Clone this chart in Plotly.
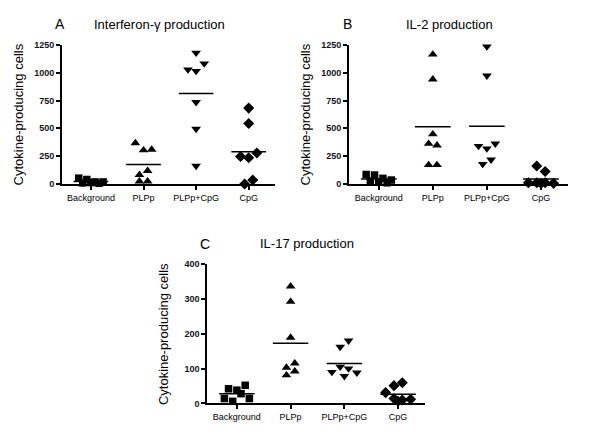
import plotly.graph_objects as go

categories = ["Background", "PLPp", "PLPp+CpG", "CpG"]

# Panel A - Interferon-gamma (one value per animal)
ifn_background = [52, 40, 18, 9, 12, 18, 6]
ifn_plpp = [368, 303, 309, 82, 118, 24, 24]
ifn_plpp_cpg = [1179, 1029, 1015, 1082, 735, 494, 162]
ifn_cpg = [682, 544, 247, 235, 279, 0, 35]

# Panel B - IL-2
il2_background = [85, 80, 50, 35, 25, 20, 10]
il2_plpp = [1165, 941, 447, 362, 347, 171, 171]
il2_plpp_cpg = [1235, 974, 341, 318, 362, 179, 218]
il2_cpg = [162, 112, 10, 10, 10, 5, 5]

# Panel C - IL-17
il17_background = [42, 38, 52, 14, 6, 28, 14]
il17_plpp = [336, 292, 189, 103, 115, 81, 92]
il17_plpp_cpg = [162, 180, 90, 105, 100, 88, 78]
il17_cpg = [51, 59, 31, 14, 6, 10, 12]

symbols = ["square", "triangle-up", "triangle-down", "diamond"]
sizes = [7.5, 8.5, 8.5, 8.5]

# the page body adds an 8px margin, so the figure is laid out 8px smaller
OFF = 8
W, H = 600 - OFF, 438 - OFF


def fx(px):
    return (px - OFF) / W


def fy(py):
    return 1 - (py - OFF) / H


panels = [
    dict(name="A", title="Interferon-\u03b3 production",
         groups=[ifn_background, ifn_plpp, ifn_plpp_cpg, ifn_cpg],
         yrange=[0, 1250], dtick=250, box=(62, 275, 40.7, 183)),
    dict(name="B", title="IL-2 production",
         groups=[il2_background, il2_plpp, il2_plpp_cpg, il2_cpg],
         yrange=[0, 1250], dtick=250, box=(349, 568, 40.7, 183)),
    dict(name="C", title="IL-17 production",
         groups=[il17_background, il17_plpp, il17_plpp_cpg, il17_cpg],
         yrange=[0, 400], dtick=100, box=(207.3, 425, 265, 407.7)),
]

FONT = "Liberation Sans Narrow, Arial Narrow, Liberation Sans, Arial, sans-serif"


def beeswarm(values, px_per_unit, size, step=0.155, cap=4):
    # group points of similar height into rows, centre each row on the category
    order = sorted(range(len(values)), key=lambda i: -values[i])
    rows, cur = [], []
    for i in order:
        if cur and ((values[cur[0]] - values[i]) * px_per_unit >= 8 or len(cur) >= cap):
            rows.append(cur)
            cur = []
        cur.append(i)
    if cur:
        rows.append(cur)
    offs = [0.0] * len(values)
    for r in rows:
        r = sorted(r)
        n = len(r)
        for j, i in enumerate(r):
            offs[i] = (j - (n - 1) / 2) * step
    return offs


fig = go.Figure()
annotations = []

for n, p in enumerate(panels):
    sfx = "" if n == 0 else str(n + 1)
    xa, ya = "x" + sfx, "y" + sfx
    x0, x1, y0, y1 = p["box"]
    px_per_unit = (y1 - y0) / (p["yrange"][1] - p["yrange"][0])
    for g, vals in enumerate(p["groups"]):
        offs = beeswarm(vals, px_per_unit, sizes[g])
        fig.add_trace(go.Scatter(
            x=[g + o for o in offs], y=vals, mode="markers",
            marker=dict(symbol=symbols[g], size=sizes[g], color="black", line=dict(width=0)),
            xaxis=xa, yaxis=ya, showlegend=False, cliponaxis=False))
        m = sum(vals) / len(vals)
        fig.add_trace(go.Scatter(
            x=[g - 0.33, g + 0.33], y=[m, m], mode="lines",
            line=dict(color="black", width=1.5),
            xaxis=xa, yaxis=ya, showlegend=False, cliponaxis=False))

    fig.layout["xaxis" + sfx] = dict(
        domain=[fx(x0), fx(x1)], anchor=ya, range=[-0.55, 3.5],
        tickvals=[0, 1, 2, 3], ticktext=categories,
        showline=True, linecolor="black", linewidth=2,
        ticks="outside", ticklen=4, tickwidth=1.5, tickcolor="black",
        showgrid=False, zeroline=False,
        tickfont=dict(family="Liberation Sans, Arial, sans-serif", size=9, color="black"))
    fig.layout["yaxis" + sfx] = dict(
        domain=[fy(y1), fy(y0)], anchor=xa, range=p["yrange"], dtick=p["dtick"],
        showline=True, linecolor="black", linewidth=2,
        ticks="outside", ticklen=4, tickwidth=1.5, tickcolor="black",
        showgrid=False, zeroline=False,
        tickfont=dict(family="Liberation Sans, Arial, sans-serif", size=9, color="#111122", weight="bold"))

    # panel letter, title and y-axis label
    annotations.append(dict(text=p["name"], x=fx(x0 - 2), y=fy(y0 - 21),
                            xref="paper", yref="paper", xanchor="center", yanchor="middle",
                            showarrow=False, font=dict(family=FONT, size=14, color="black")))
    annotations.append(dict(text=p["title"], x=fx(x0 + 0.46 * (x1 - x0)), y=fy(y0 - 21),
                            xref="paper", yref="paper", xanchor="center", yanchor="middle",
                            showarrow=False, font=dict(family=FONT, size=13, color="black")))
    annotations.append(dict(text="Cytokine-producing cells", x=fx(x0 - 44), y=fy((y0 + y1) / 2),
                            textangle=-90,
                            xref="paper", yref="paper", xanchor="center", yanchor="middle",
                            showarrow=False, font=dict(family=FONT, size=13, color="black")))

fig.update_layout(
    width=W, height=H,
    margin=dict(l=0, r=0, t=0, b=0),
    paper_bgcolor="white", plot_bgcolor="white",
    annotations=annotations,
    showlegend=False,
)

fig.write_html("out.html")
